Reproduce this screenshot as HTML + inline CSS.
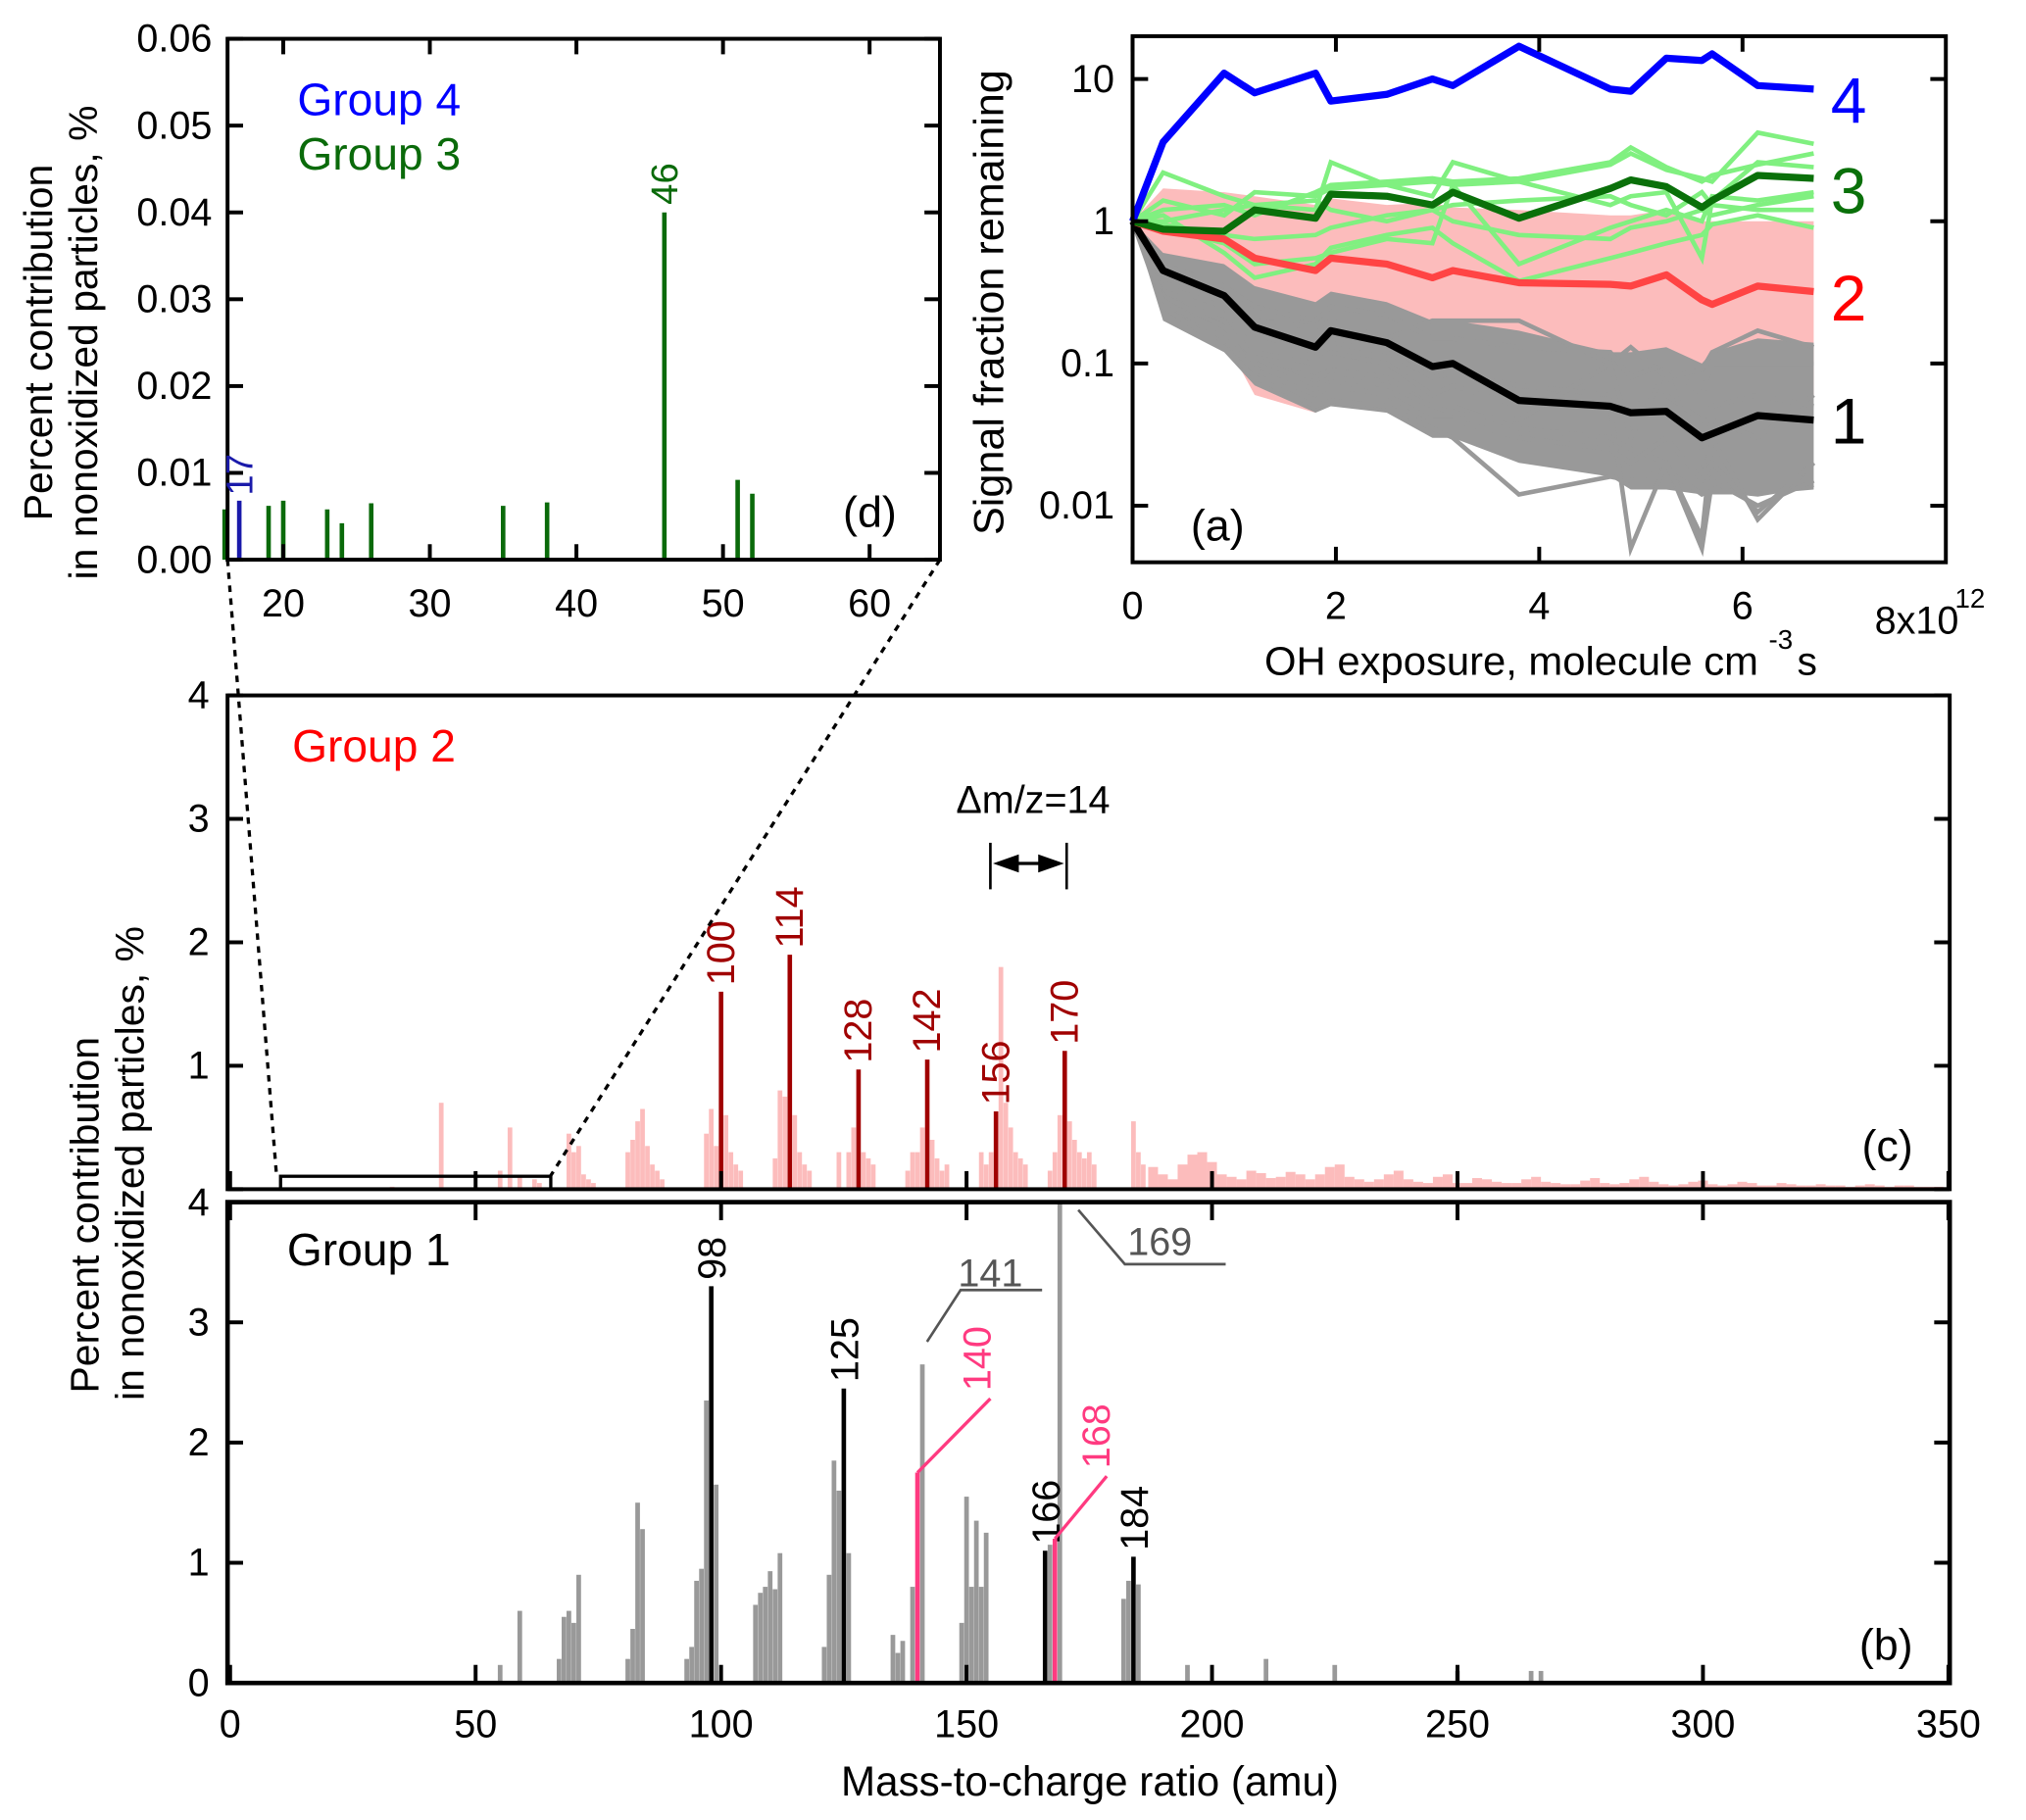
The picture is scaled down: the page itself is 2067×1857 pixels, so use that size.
<!DOCTYPE html>
<html><head><meta charset="utf-8"><style>
html,body{margin:0;padding:0;background:#fff;}
svg{display:block;font-family:"Liberation Sans",Arial,sans-serif;}
</style></head><body>
<svg id="fig" xmlns="http://www.w3.org/2000/svg" width="2067" height="1857" viewBox="0 0 1567 1408" preserveAspectRatio="none">
<rect x="0" y="0" width="1567" height="1408" fill="#fff"/>
<g id="layer"></g>
</svg>
<script>
// ---------- Panel (a) data ----------
const aX = [0,0.3,0.9,1.2,1.8,1.95,2.5,2.95,3.15,3.8,4.7,4.9,5.25,5.6,5.7,6.15,6.7];
const aGroup4 = [1,3.6,11,8,11,7,7.8,10,9,17,8.5,8.2,14,13.5,15,9,8.5];
const aGroup3 = [1,0.88,0.85,1.2,1.05,1.55,1.5,1.3,1.6,1.05,1.7,1.95,1.75,1.25,1.4,2.1,2.0];
const aGroup2 = [1,0.85,0.75,0.55,0.45,0.55,0.5,0.4,0.45,0.37,0.36,0.35,0.42,0.28,0.26,0.35,0.32];
const aGroup1 = [1,0.45,0.3,0.18,0.13,0.17,0.14,0.095,0.1,0.055,0.05,0.045,0.046,0.03,0.032,0.043,0.04];
const aPinkUpper = [1,1.7,1.6,1.5,1.3,1.45,1.3,1.35,1.25,1.2,1.1,1.1,1.2,1.0,1.0,1.0,1.0];
const aPinkLower = [1,0.3,0.15,0.06,0.045,0.06,0.05,0.045,0.04,0.04,0.035,0.03,0.03,0.03,0.03,0.05,0.06];
const aGrayUpper = [1,0.6,0.5,0.35,0.27,0.32,0.27,0.2,0.2,0.17,0.12,0.12,0.13,0.1,0.12,0.15,0.14];
const aGrayLower = [1,0.2,0.12,0.07,0.045,0.05,0.045,0.03,0.03,0.02,0.016,0.013,0.013,0.012,0.012,0.012,0.013];
const aGrayLines = [
 [1,0.25,0.13,0.08,0.05,0.055,0.05,0.035,0.03,0.012,0.016,0.015,0.018,0.012,0.013,0.012,0.014],
 [1,0.4,0.3,0.2,0.18,0.2,0.15,0.2,0.2,0.2,0.1,0.13,0.08,0.09,0.12,0.17,0.13],
 [1,0.35,0.25,0.12,0.1,0.12,0.1,0.06,0.07,0.05,0.05,0.005,0.02,0.005,0.015,0.01,0.015],
 [1,0.5,0.35,0.25,0.2,0.25,0.22,0.15,0.15,0.13,0.12,0.08,0.1,0.06,0.1,0.1,0.1],
 [1,0.3,0.2,0.1,0.08,0.09,0.08,0.05,0.05,0.035,0.03,0.025,0.02,0.006,0.03,0.008,0.02],
 [1,0.45,0.28,0.16,0.12,0.14,0.12,0.08,0.085,0.07,0.06,0.05,0.06,0.04,0.05,0.06,0.05],
 [1,0.3,0.18,0.11,0.07,0.08,0.07,0.05,0.045,0.04,0.1,0.03,0.09,0.02,0.04,0.03,0.06],
 [1,0.28,0.15,0.09,0.06,0.07,0.06,0.04,0.04,0.03,0.025,0.02,0.03,0.015,0.02,0.009,0.02]
];
const aGreenLines = [
 [1,2.2,1.5,1.3,1.2,2.6,1.8,1.5,2.6,1.9,2.5,3.0,2.3,2.0,1.9,4.2,3.5],
 [1,1.4,1.1,1.6,1.5,1.7,1.8,1.9,1.8,1.9,1.3,1.5,1.6,0.55,1.4,2.6,2.4],
 [1,0.9,0.7,0.5,0.55,0.6,0.75,0.7,1.8,0.5,0.9,1.0,1.2,1.0,1.5,1.4,1.6],
 [1,1.1,0.6,0.4,0.5,0.65,0.8,0.9,0.7,0.38,0.55,0.6,0.7,0.8,0.95,1.1,0.9],
 [1,1.0,1.2,1.3,1.4,1.2,1.0,1.2,1.3,1.4,1.5,1.3,1.1,1.6,1.3,1.2,1.2],
 [1,1.2,1.3,1.1,1.6,1.8,1.9,2.0,1.9,2.0,2.6,3.3,2.4,1.9,2.1,2.5,3.0],
 [1,0.95,0.8,0.75,0.8,0.9,1.1,1.2,1.0,0.8,0.75,0.9,1.0,1.2,1.1,1.3,1.5]
];
const aYTicks = [10,1,0.1,0.01];
const aYTickLabels = ["10","1","0.1","0.01"];
const aXTicks = [0,2,4,6];
// ---------- Panel (d) data ----------
const dMz = [16,19,20,23,24,26,35,38,46,51,52];
const dVal = [0.0058,0.0062,0.0068,0.0058,0.0042,0.0065,0.0062,0.0066,0.040,0.0092,0.0076];
const dMz4 = [17];
const dVal4 = [0.0068];
const dYTicks = [0,0.01,0.02,0.03,0.04,0.05,0.06];
const dYTickLabels = ["0.00","0.01","0.02","0.03","0.04","0.05","0.06"];
const dXTicks = [20,30,40,50,60];
// ---------- Panel (c) data ----------
const cMainMz = [100,114,128,142,156,170];
const cMainVal = [1.6,1.9,0.97,1.05,0.63,1.12];
const cPinkMz = [33,43,55,57,59,62,63,69,70,71,72,73,74,81,82,83,84,85,86,87,88,97,98,99,101,102,103,104,111,112,113,115,116,117,118,124,126,127,129,130,131,138,139,140,141,143,144,145,146,153,154,155,157,158,159,160,161,162,167,168,169,171,172,173,174,175,176,184,185,186];
const cPinkVal = [0.02,0.7,0.15,0.5,0.1,0.08,0.05,0.45,0.3,0.35,0.12,0.08,0.05,0.3,0.4,0.55,0.65,0.35,0.2,0.15,0.08,0.45,0.65,0.35,0.6,0.3,0.2,0.15,0.25,0.8,0.75,0.6,0.3,0.2,0.15,0.3,0.3,0.5,0.3,0.25,0.2,0.15,0.3,0.3,0.5,0.4,0.25,0.15,0.2,0.3,0.2,0.3,1.8,0.7,0.5,0.3,0.25,0.2,0.15,0.3,0.6,0.55,0.4,0.3,0.25,0.3,0.2,0.55,0.3,0.2];
const cTailMz = [188,190,192,194,196,198,200,202,204,206,208,210,212,214,216,218,220,222,224,226,228,230,232,234,236,238,240,242,244,246,248,250,252,254,256,258,260,262,264,266,268,270,272,274,276,278,280,282,284,286,288,290,292,294,296,298,300,302,304,306,308,310,312,314,316,318,320,322,324,326,328,330,332,334,336,338,340,342,344,346,348];
const cTailVal = [0.18,0.12,0.08,0.2,0.28,0.3,0.22,0.12,0.1,0.08,0.15,0.13,0.09,0.1,0.14,0.12,0.08,0.12,0.18,0.2,0.1,0.08,0.06,0.08,0.12,0.15,0.08,0.06,0.05,0.1,0.12,0.05,0.05,0.09,0.08,0.06,0.05,0.05,0.08,0.1,0.06,0.05,0.04,0.04,0.07,0.09,0.05,0.04,0.05,0.08,0.1,0.06,0.04,0.03,0.04,0.06,0.07,0.04,0.03,0.04,0.06,0.05,0.03,0.03,0.05,0.04,0.03,0.03,0.04,0.03,0.03,0.02,0.03,0.04,0.03,0.02,0.03,0.03,0.02,0.02,0.02];
// ---------- Panel (b) data ----------
const bGrayMz = [55,59,67,68,69,70,71,81,82,83,84,93,94,95,96,97,99,107,108,109,110,111,112,121,122,123,124,126,135,136,137,139,141,149,150,151,152,153,154,167,169,182,183,185,195,211,225,250,265,267];
const bGrayVal = [0.15,0.6,0.2,0.55,0.6,0.5,0.9,0.2,0.45,1.5,1.28,0.2,0.3,0.85,0.95,2.35,1.65,0.65,0.75,0.8,0.93,0.78,1.08,0.3,0.9,1.85,1.6,1.08,0.4,0.25,0.35,0.8,2.65,0.5,1.55,0.8,1.35,0.8,1.25,1.15,4.0,0.7,0.85,0.82,0.15,0.2,0.15,0.1,0.1,0.1];
const bBlackMz = [98,125,166,184];
const bBlackVal = [3.3,2.45,1.1,1.05];
const bPinkMz = [140,168];
const bPinkVal = [1.75,1.2];
const mzTicks = [0,50,100,150,200,250,300,350];
const cbYTicks = [0,1,2,3,4];

const NS="http://www.w3.org/2000/svg";
const layer=document.getElementById('layer');
function el(tag,attrs,parent){const e=document.createElementNS(NS,tag);for(const k in attrs)e.setAttribute(k,attrs[k]);(parent||layer).appendChild(e);return e;}
function txt(s,attrs){const e=el('text',attrs);e.textContent=s;return e;}
const TK=30;

// ---------- scales ----------
const A={l:876,r:1505,t:28,b:435};
const ax=v=>A.l+(v-0)/8*(A.r-A.l);
const ay=v=>{const t=Math.log10(20),b=Math.log10(0.004);return A.t+(t-Math.log10(v))/(t-b)*(A.b-A.t);};
const D={l:176,r:727,t:30,b:433};
const dx=v=>D.l+(v-16.2)/(64.8-16.2)*(D.r-D.l);
const dy=v=>D.b-v/0.06*(D.b-D.t);
const C={l:176,r:1508,t:538,b:920};
const mx=v=>178+v*(1507-178)/350;
const cy=v=>C.b-v/4*(C.b-C.t);
const B={l:176,r:1508,t:930,b:1302};
const by=v=>B.b-v/4*(B.b-B.t);

// ---------- panel (a) ----------
function ptsA(arr){return arr.map((v,i)=>ax(aX[i]).toFixed(1)+','+ay(v).toFixed(1)).join(' ');}
let p=el('polygon',{points:ptsA(aPinkUpper)+' '+aPinkLower.map((v,i)=>ax(aX[i]).toFixed(1)+','+ay(v).toFixed(1)).reverse().join(' '),fill:'#fcbcbc'});


p=el('polygon',{points:ptsA(aGrayUpper)+' '+aGrayLower.map((v,i)=>ax(aX[i]).toFixed(1)+','+ay(v).toFixed(1)).reverse().join(' '),fill:'#999'});


aGrayLines.forEach(a=>{const l=el('polyline',{points:ptsA(a),fill:'none',stroke:'#999',"stroke-width":3.5});

});
aGreenLines.forEach(a=>{const l=el('polyline',{points:ptsA(a),fill:'none',stroke:'#80f080',"stroke-width":3.5});

});
[[aGroup1,'#000','group1-mean-line'],[aGroup2,'#f44','group2-mean-line'],[aGroup3,'#0a700a','group3-mean-line'],[aGroup4,'#00f','group4-mean-line']].forEach(s=>{
 const l=el('polyline',{points:ptsA(s[0]),fill:'none',stroke:s[1],"stroke-width":5.5,"stroke-linejoin":"round"});
 
 
});
el('rect',{x:A.l,y:A.t,width:A.r-A.l,height:A.b-A.t,fill:'none',stroke:'#000',"stroke-width":3});
aYTicks.forEach((v,i)=>{const y=ay(v);
 el('line',{x1:A.l,x2:A.l+12,y1:y,y2:y,stroke:'#000',"stroke-width":3});
 el('line',{x1:A.r,x2:A.r-12,y1:y,y2:y,stroke:'#000',"stroke-width":3});
 const t=txt(aYTickLabels[i],{x:A.l-14,y:y+10,"font-size":TK,"text-anchor":"end"});
 
 
});
aXTicks.forEach(v=>{const x=ax(v);
 el('line',{x1:x,x2:x,y1:A.b,y2:A.b-12,stroke:'#000',"stroke-width":3});
 el('line',{x1:x,x2:x,y1:A.t,y2:A.t+12,stroke:'#000',"stroke-width":3});
 const t=txt(String(v),{x:x,y:479,"font-size":TK,"text-anchor":"middle"});
 
 
});
let t=txt('8x10',{x:1450,y:490,"font-size":TK});


txt('12',{x:1512,y:470,"font-size":21});
t=txt('OH exposure, molecule cm',{x:978,y:522,"font-size":31,textLength:382,lengthAdjust:"spacingAndGlyphs"});


txt('-3',{x:1368,y:502,"font-size":21});
txt('s',{x:1390,y:522,"font-size":31});
t=txt('Signal  fraction  remaining',{x:0,y:0,"font-size":32,"text-anchor":"middle",textLength:360,lengthAdjust:"spacingAndGlyphs",transform:'translate(776,234) rotate(-90)'});


t=txt('(a)',{x:921,y:418,"font-size":34});


[['4','#00f',95],['3','#0a700a',165],['2','#f00',248],['1','#000',343]].forEach(s=>{
 const q=txt(s[0],{x:1416,y:s[2],"font-size":50,fill:s[1]});
 
 
});

// ---------- panel (d) ----------
dMz.forEach((m,i)=>{const l=el('line',{x1:dx(m),x2:dx(m),y1:D.b,y2:dy(dVal[i]),stroke:'#0a6a0a',"stroke-width":3.5});
 
 });
dMz4.forEach((m,i)=>{const l=el('line',{x1:dx(m),x2:dx(m),y1:D.b,y2:dy(dVal4[i]),stroke:'#1a1aaa',"stroke-width":3.5});
 
 });
el('rect',{x:D.l,y:D.t,width:D.r-D.l,height:D.b-D.t,fill:'none',stroke:'#000',"stroke-width":3});
dYTicks.forEach((v,i)=>{const y=dy(v);
 el('line',{x1:D.l,x2:D.l+12,y1:y,y2:y,stroke:'#000',"stroke-width":3});
 el('line',{x1:D.r,x2:D.r-12,y1:y,y2:y,stroke:'#000',"stroke-width":3});
 const q=txt(dYTickLabels[i],{x:D.l-12,y:y+10,"font-size":TK,"text-anchor":"end"});
 
 
});
dXTicks.forEach(v=>{const x=dx(v);
 el('line',{x1:x,x2:x,y1:D.b,y2:D.b-12,stroke:'#000',"stroke-width":3});
 el('line',{x1:x,x2:x,y1:D.t,y2:D.t+12,stroke:'#000',"stroke-width":3});
 const q=txt(String(v),{x:x,y:477,"font-size":TK,"text-anchor":"middle"});
 
 
});
t=txt('46',{x:0,y:0,"font-size":29,fill:'#0a6a0a',transform:`translate(${dx(46)+10},${dy(0.04)-6}) rotate(-90)`});


t=txt('17',{x:0,y:0,"font-size":29,fill:'#1a1aaa',transform:`translate(${dx(17)+10},${dy(0.0068)-4}) rotate(-90)`});


t=txt('Group 4',{x:230,y:89,"font-size":35,fill:'#00f'});


t=txt('Group 3',{x:230,y:131,"font-size":35,fill:'#0a6a0a'});


t=txt('(d)',{x:652,y:408,"font-size":34});


t=txt('Percent  contribution',{x:0,y:0,"font-size":31,"text-anchor":"middle",transform:'translate(40,265) rotate(-90)'});


txt('in nonoxidized particles, %',{x:0,y:0,"font-size":31,"text-anchor":"middle",transform:'translate(75,265) rotate(-90)'});

// ---------- panel (c) ----------
const bw=3.6;
cPinkMz.forEach((m,i)=>{const r=el('rect',{x:mx(m)-bw/2,y:cy(cPinkVal[i]),width:bw,height:C.b-cy(cPinkVal[i]),fill:'#fcbcbc'});
 
 });
cTailMz.forEach((m,i)=>{const r=el('rect',{x:mx(m)-3.8,y:cy(cTailVal[i]),width:7.6,height:C.b-cy(cTailVal[i]),fill:'#fcbcbc'});
 
 });
cMainMz.forEach((m,i)=>{const l=el('line',{x1:mx(m),x2:mx(m),y1:C.b,y2:cy(cMainVal[i]),stroke:'#a00000',"stroke-width":3.5});
 
 
 const q=txt(String(m),{x:0,y:0,"font-size":30,fill:'#a00000',transform:`translate(${mx(m)+10},${cy(cMainVal[i])-5}) rotate(-90)`});
 
 
});
el('rect',{x:C.l,y:C.t,width:C.r-C.l,height:C.b-C.t,fill:'none',stroke:'#000',"stroke-width":3});
cbYTicks.forEach(v=>{const y=cy(v);
 el('line',{x1:C.l,x2:C.l+12,y1:y,y2:y,stroke:'#000',"stroke-width":3});
 el('line',{x1:C.r,x2:C.r-12,y1:y,y2:y,stroke:'#000',"stroke-width":3});
 if(v>0){const q=txt(String(v),{x:C.l-14,y:y+10,"font-size":TK,"text-anchor":"end"});
 
 }
});
mzTicks.forEach(v=>{const x=mx(v);
 el('line',{x1:x,x2:x,y1:C.b,y2:C.b-14,stroke:'#000',"stroke-width":3});});
t=txt('Group 2',{x:226,y:589,"font-size":35,fill:'#f00'});


t=txt('(c)',{x:1440,y:898,"font-size":34});


t=txt('\u0394m/z=14',{x:799,y:629,"font-size":30,"text-anchor":"middle"});


el('line',{x1:766,x2:766,y1:652,y2:688,stroke:'#000',"stroke-width":2});
el('line',{x1:825,x2:825,y1:652,y2:688,stroke:'#000',"stroke-width":2});
el('line',{x1:775,x2:816,y1:668,y2:668,stroke:'#000',"stroke-width":2.5});
el('polygon',{points:'768,668 788,661 788,675',fill:'#000'});
el('polygon',{points:'823,668 803,661 803,675',fill:'#000'});
el('rect',{x:217,y:910,width:209,height:10,fill:'none',stroke:'#000',"stroke-width":2.5});
el('line',{x1:D.l,y1:D.b,x2:214,y2:911,stroke:'#000',"stroke-width":2.5,"stroke-dasharray":"5,5"});
el('line',{x1:D.r,y1:D.b,x2:425,y2:911,stroke:'#000',"stroke-width":2.5,"stroke-dasharray":"5,5"});

// ---------- panel (b) ----------
bGrayMz.forEach((m,i)=>{const r=el('rect',{x:mx(m)-bw/2,y:by(bGrayVal[i]),width:bw,height:B.b-by(bGrayVal[i]),fill:'#999'});
 
 });
bBlackMz.forEach((m,i)=>{const l=el('line',{x1:mx(m),x2:mx(m),y1:B.b,y2:by(bBlackVal[i]),stroke:'#000',"stroke-width":3.5});
 
 
 const q=txt(String(m),{x:0,y:0,"font-size":30,transform:`translate(${mx(m)+11},${by(bBlackVal[i])-5}) rotate(-90)`});
 
 
});
bPinkMz.forEach((m,i)=>{const l=el('line',{x1:mx(m),x2:mx(m),y1:B.b,y2:by(bPinkVal[i]),stroke:'#ff3a80',"stroke-width":3.5});
 
 });
el('polyline',{points:`${mx(140)},${by(1.75)} 766,1082`,fill:'none',stroke:'#ff3a80',"stroke-width":2.5});
t=txt('140',{x:0,y:0,"font-size":30,fill:'#ff3a80',transform:'translate(766,1076) rotate(-90)'});


el('polyline',{points:`${mx(168)},${by(1.2)} 856,1142`,fill:'none',stroke:'#ff3a80',"stroke-width":2.5});
t=txt('168',{x:0,y:0,"font-size":30,fill:'#ff3a80',transform:'translate(858,1136) rotate(-90)'});


el('polyline',{points:'717,1038 743,998 806,998',fill:'none',stroke:'#555',"stroke-width":2});
t=txt('141',{x:741,y:995,"font-size":30,fill:'#555'});


el('polyline',{points:'834,936 870,978 948,978',fill:'none',stroke:'#555',"stroke-width":2});
t=txt('169',{x:872,y:971,"font-size":30,fill:'#555'});


el('rect',{x:B.l,y:B.t,width:B.r-B.l,height:B.b-B.t,fill:'none',stroke:'#000',"stroke-width":3.5});
cbYTicks.forEach(v=>{const y=by(v);
 el('line',{x1:B.l,x2:B.l+12,y1:y,y2:y,stroke:'#000',"stroke-width":3});
 el('line',{x1:B.r,x2:B.r-12,y1:y,y2:y,stroke:'#000',"stroke-width":3});
 const q=txt(String(v),{x:B.l-14,y:y+10,"font-size":TK,"text-anchor":"end"});
 
 
});
mzTicks.forEach(v=>{const x=mx(v);
 el('line',{x1:x,x2:x,y1:B.b,y2:B.b-14,stroke:'#000',"stroke-width":3});
 el('line',{x1:x,x2:x,y1:B.t,y2:B.t+14,stroke:'#000',"stroke-width":3});
 const q=txt(String(v),{x:x,y:1344,"font-size":TK,"text-anchor":"middle"});
 
 
});
t=txt('Group 1',{x:222,y:979,"font-size":35});


t=txt('(b)',{x:1438,y:1284,"font-size":34});


t=txt('Mass-to-charge ratio (amu)',{x:843,y:1389,"font-size":32,"text-anchor":"middle",textLength:385,lengthAdjust:"spacingAndGlyphs"});


t=txt('Percent  contribution',{x:0,y:0,"font-size":31,"text-anchor":"middle",transform:'translate(76,940) rotate(-90)'});


txt('in nonoxidized particles, %',{x:0,y:0,"font-size":31,"text-anchor":"middle",transform:'translate(111,900) rotate(-90)'});
</script>
</body></html>
